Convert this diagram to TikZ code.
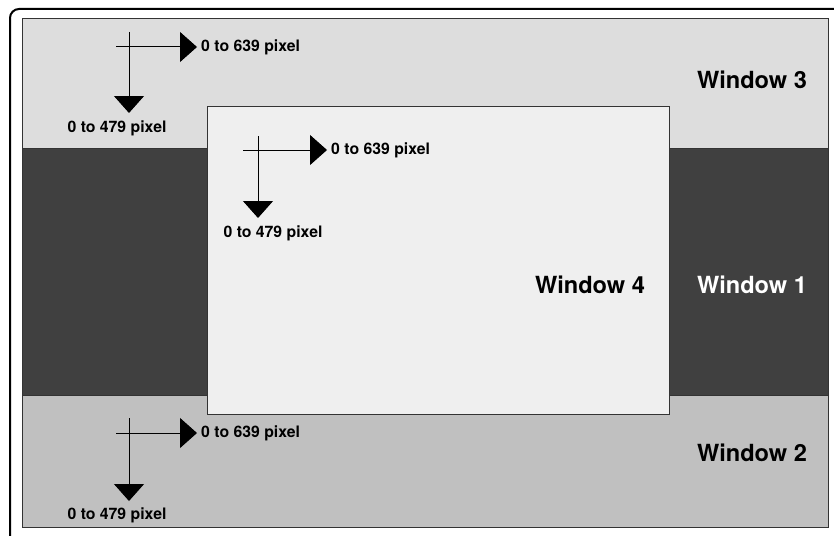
\documentclass[tikz,border=0pt]{standalone}
\usepackage{fontspec}
\setmainfont{TeX Gyre Heros}
\usetikzlibrary{arrows.meta}

\definecolor{winthree}{HTML}{DDDDDD}
\definecolor{winone}{HTML}{404040}
\definecolor{wintwo}{HTML}{C0C0C0}
\definecolor{winfour}{HTML}{EFEFEF}
\definecolor{edge}{HTML}{333333}

\tikzset{
  winbox/.style={draw=edge, line width=1pt},
  winlabel/.style={font=\bfseries\fontsize{23.6}{27}\selectfont, inner sep=0pt},
  pixlabel/.style={font=\bfseries\fontsize{15.8}{18}\selectfont, inner sep=0pt},
  axis/.style={line width=1pt, draw=black},
  bigtip/.style={-{Triangle[width=30pt,length=17pt]}}
}

\begin{document}
\begin{tikzpicture}[x=1pt,y=-1pt]
  \useasboundingbox (0,0) rectangle (834,535);
  \clip (0,0) rectangle (834,535);
  \draw[line width=2pt, rounded corners=9pt] (10,9) rectangle (860,560);
  % windows
  \draw[winbox, fill=winthree] (22,19) rectangle (828,148);
  \draw[winbox, fill=winone] (22,148) rectangle (828,395);
  \draw[winbox, fill=wintwo] (22,395) rectangle (828,527);
  \draw[winbox, fill=winfour] (207,106) rectangle (669,414);
  \node[winlabel] (w3) at (752,80) {Window 3};
  \node[winlabel] (w4) at (590,285) {Window 4};
  \node[winlabel, text=white] (w1) at (752,285) {Window 1};
  \node[winlabel] (w2) at (752,453) {Window 2};
  % axes of window 3
  \coordinate (v3a) at (129,32);
  \coordinate (v3b) at (129,113);
  \coordinate (h3a) at (116,47);
  \node[pixlabel, anchor=west, inner sep=4pt] (x3) at (197,47) {0 to 639 pixel};
  \node[pixlabel] (y3) at (117,128) {0 to 479 pixel};
  \draw[axis, bigtip] (h3a) -- (x3.west);
  \draw[axis, bigtip] (v3a) -- (v3b);
  % axes of window 4
  \coordinate (v4a) at (258,136);
  \coordinate (v4b) at (258,218);
  \coordinate (h4a) at (243,150);
  \node[pixlabel, anchor=west, inner sep=4pt] (x4) at (327,150) {0 to 639 pixel};
  \node[pixlabel] (y4) at (273,233) {0 to 479 pixel};
  \draw[axis, bigtip] (h4a) -- (x4.west);
  \draw[axis, bigtip] (v4a) -- (v4b);
  % axes of window 2
  \coordinate (v2a) at (129,418);
  \coordinate (v2b) at (129,501);
  \coordinate (h2a) at (116,433);
  \node[pixlabel, anchor=west, inner sep=4pt] (x2) at (197,433) {0 to 639 pixel};
  \node[pixlabel] (y2) at (117,515) {0 to 479 pixel};
  \draw[axis, bigtip] (h2a) -- (x2.west);
  \draw[axis, bigtip] (v2a) -- (v2b);
\end{tikzpicture}
\end{document}
